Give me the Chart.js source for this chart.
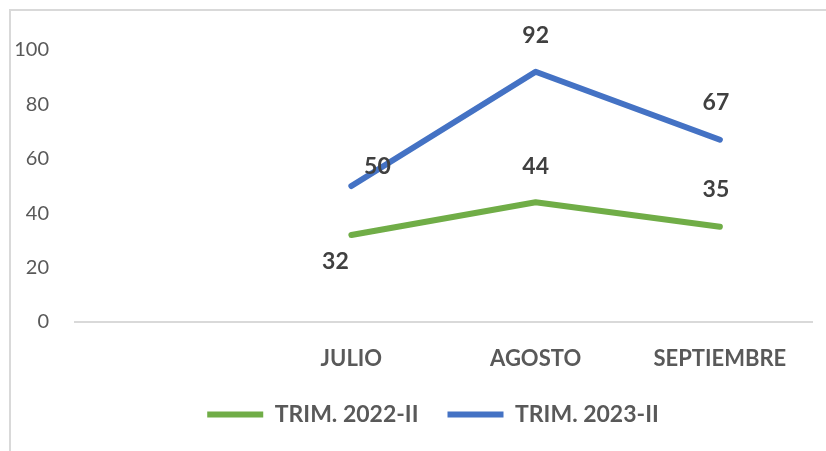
<!DOCTYPE html>
<html>
<head>
<meta charset="utf-8">
<script src="https://cdn.jsdelivr.net/npm/chart.js@4/dist/chart.umd.min.js"></script>
<style>
  html, body { margin: 0; padding: 0; background: #fff; }
  #wrap { position: relative; width: 826px; height: 451px; }
  #frame { position: absolute; left: 9px; top: 9px; width: 830px; height: 450px;
           border-left: 2px solid #d9d9d9; border-top: 2px solid #d9d9d9; pointer-events: none; }
  canvas { position: absolute; left: 0; top: 0; }
</style>
</head>
<body>
<div id="wrap">
  <canvas id="c" width="826" height="451"></canvas>
  <div id="frame"></div>
</div>
<script>
const categories = ['', 'JULIO', 'AGOSTO', 'SEPTIEMBRE'];
const seriesNames = ['TRIM. 2022-II', 'TRIM. 2023-II'];
const trim2022 = [null, 32, 44, 35];
const trim2023 = [null, 50, 92, 67];
const yTicks = [0, 20, 40, 60, 80, 100];

// label offsets (pixels from the point) for each dataset / point
const labelOffsets = [
  [null, [-16, 27], [0, -36], [-4, -37]],
  [null, [26, -19], [0, -36], [-4, -37]]
];

const dataLabels = {
  id: 'dataLabels',
  afterDatasetsDraw(chart) {
    const ctx = chart.ctx;
    ctx.save();
    ctx.font = 'bold 23px Lato';
    ctx.fillStyle = '#404040';
    ctx.textAlign = 'center';
    ctx.textBaseline = 'middle';
    chart.data.datasets.forEach((ds, di) => {
      const meta = chart.getDatasetMeta(di);
      meta.data.forEach((pt, i) => {
        const v = ds.data[i];
        if (v === null || v === undefined) return;
        const off = labelOffsets[di][i] || [0, -36];
        ctx.fillText(String(v), pt.x + off[0], pt.y + off[1]);
      });
    });
    ctx.restore();
  }
};

const legendTweak = {
  id: 'legendTweak',
  beforeLayout(chart) {
    const lg = chart.legend;
    if (lg && !lg._tweaked) {
      const fit = lg.fit.bind(lg);
      lg.fit = function () { fit(); this.height = 81; };
      lg._tweaked = true;
    }
  },
  afterLayout(chart) {
    if (chart.legend) { chart.legend.left += 44; chart.legend.top += 4; }
  }
};

new Chart(document.getElementById('c'), {
  type: 'line',
  data: {
    labels: categories,
    datasets: [
      { label: seriesNames[0], data: trim2022, borderColor: '#70AD47', backgroundColor: '#70AD47',
        borderWidth: 6, borderCapStyle: 'round', borderJoinStyle: 'round', pointRadius: 0, pointStyle: 'line', tension: 0 },
      { label: seriesNames[1], data: trim2023, borderColor: '#4472C4', backgroundColor: '#4472C4',
        borderWidth: 6, borderCapStyle: 'round', borderJoinStyle: 'round', pointRadius: 0, pointStyle: 'line', tension: 0 }
    ]
  },
  options: {
    responsive: false,
    animation: false,
    layout: { padding: { top: 50, right: 14, bottom: 0, left: 10 } },
    plugins: {
      tooltip: { enabled: false },
      legend: {
        position: 'bottom',
        labels: {
          usePointStyle: true,
          pointStyleWidth: 56,
          boxHeight: 6,
          padding: 29,
          color: '#595959',
          font: { family: 'Lato', size: 23, weight: 'bold' }
        }
      }
    },
    scales: {
      x: {
        offset: true,
        grid: { display: false },
        border: { display: true, color: '#d9d9d9', width: 2 },
        ticks: { color: '#595959', padding: 16, font: { family: 'Lato', size: 22, weight: 'bold' }, maxRotation: 0, autoSkip: false },
        afterFit(s) { s.height = 48; }
      },
      y: {
        min: 0, max: 100,
        afterBuildTicks(s) { s.ticks = yTicks.map(v => ({ value: v })); },
        grid: { display: false },
        border: { display: false },
        ticks: { color: '#595959', padding: 18, font: { family: 'Lato', size: 20 } },
        afterFit(s) { s.width = 65; }
      }
    }
  },
  plugins: [dataLabels, legendTweak]
});
</script>
</body>
</html>
